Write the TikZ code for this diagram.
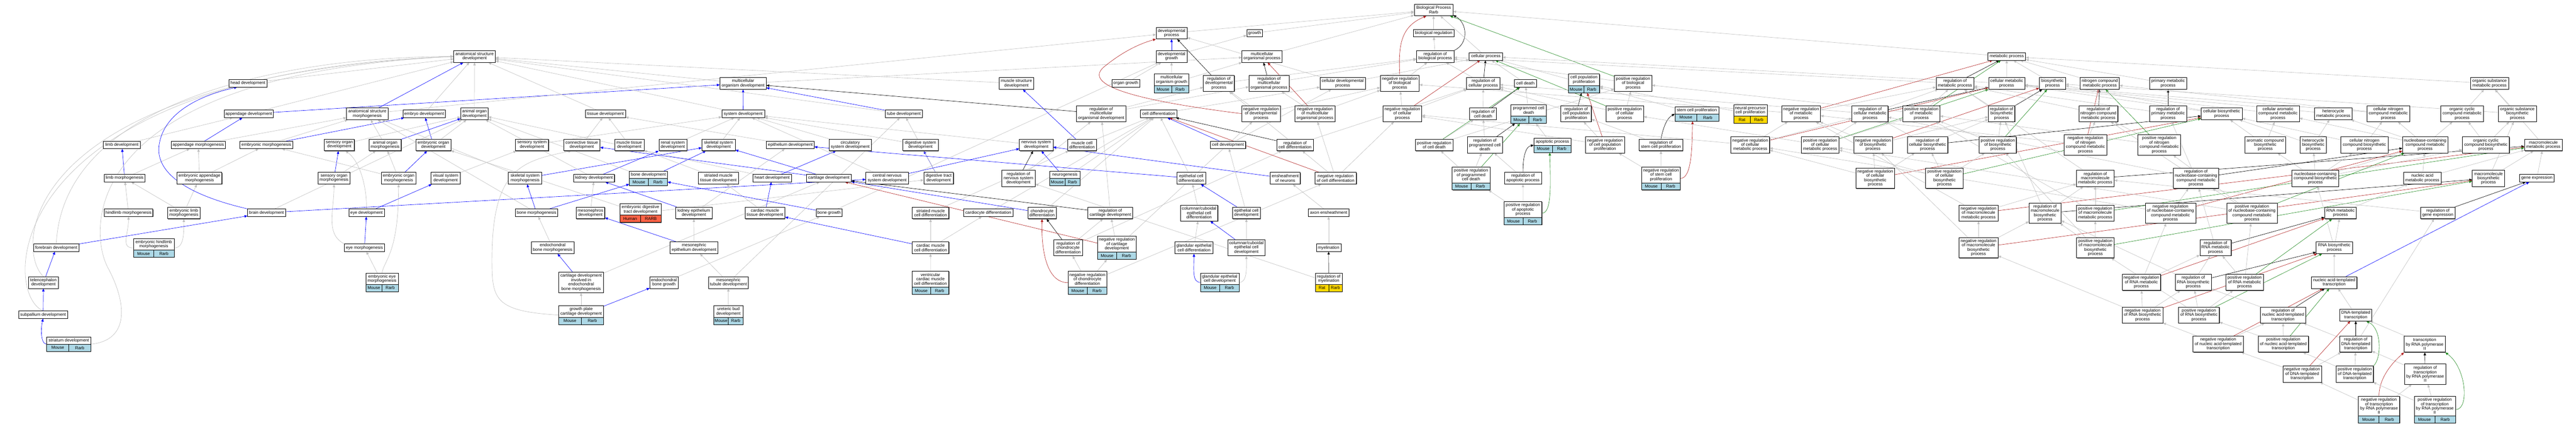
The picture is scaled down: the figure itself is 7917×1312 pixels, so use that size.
\documentclass[tikz,border=0pt]{standalone}
\usepackage{fontspec}
\setmainfont{Liberation Sans}
\usetikzlibrary{arrows.meta,shadows}
\pgfdeclarelayer{background}
\pgfsetlayers{background,main}
\definecolor{edgegray}{RGB}{192,192,192}
\definecolor{lblue}{RGB}{173,216,230}
\definecolor{tomatoc}{RGB}{255,99,71}
\definecolor{goldc}{RGB}{255,215,0}
\definecolor{fbrick}{RGB}{178,34,34}
\definecolor{fgreen}{RGB}{34,139,34}
\newcommand{\gofs}{\fontsize{13}{13.4}\selectfont}
\tikzset{
  gobox/.style={draw=black, line width=1.1pt, fill=white, inner sep=0pt, align=center, font=\gofs,
    drop shadow={shadow xshift=1.3pt, shadow yshift=-1.3pt, fill=black!60, opacity=1}},
  golabel/.style={inner sep=0pt, align=center, font=\gofs},
  edgebase/.style={line width=1pt, -{Triangle[length=9pt,width=7.5pt]}},
  isa/.style={edgebase, draw=edgegray},
  partof/.style={edgebase, draw=blue},
  regs/.style={edgebase, draw=black},
  negr/.style={edgebase, draw=fbrick},
  posr/.style={edgebase, draw=fgreen},
}
\newcommand{\GOn}[6]{\node[gobox, minimum width=#4pt, minimum height=#5pt] (#1) at (#2,#3) {#6};}
\newcommand{\GOg}[9][lblue]{%
  \node[gobox, minimum width=#6pt, minimum height={(#5)-(#4)}] (#2) at (#3,{((#4)+(#5))/2}) {};
  \node[golabel] at (#3,{((#4)+(#5)-22)/2}) {#7};
  \draw[line width=1.1pt, fill=#1] ({(#3)-(#6)/2},{(#5)-22}) rectangle (#3,#5);
  \draw[line width=1.1pt, fill=#1] (#3,{(#5)-22}) rectangle ({(#3)+(#6)/2},#5);
  \node[golabel] at ({(#3)-(#6)/4},{(#5)-11}) {#8};
  \node[golabel] at ({(#3)+(#6)/4},{(#5)-11}) {#9};
}
\newcommand{\GOe}[3]{\draw[#1] (#2) -- (#3);}
\begin{document}
\begin{tikzpicture}[x=1pt,y=-1pt]
\useasboundingbox (0,0) rectangle (7917,1312);
% ---------------- nodes: development (left)
\GOn{limbdev}{374.5}{445.5}{113}{23}{limb development}
\GOn{appmorph}{609.5}{445.5}{165}{23}{appendage morphogenesis}
\GOn{limbmorph}{383}{547.5}{126}{23}{limb morphogenesis}
\GOn{embappmorph}{613}{548}{138}{36}{embryonic appendage\\morphogenesis}
\GOn{hindlimbmorph}{395}{654}{150}{23}{hindlimb morphogenesis}
\GOn{emblimbmorph}{565}{654.5}{99}{36}{embryonic limb\\morphogenesis}
\GOg{embhind}{472.5}{733}{791}{125}{embryonic hindlimb\\morphogenesis}{Mouse}{Rarb}
\GOn{forebrain}{173}{761.5}{139}{23}{forebrain development}
\GOn{telen}{133.5}{868.5}{91}{36}{telencephalon\\development}
\GOn{subpall}{132.5}{967.5}{151}{23}{subpallium development}
\GOg{striatum}{211.4}{1036}{1080}{135.3}{striatum development}{Mouse}{Rarb}
\GOn{headdev}{762}{256}{116.5}{23}{head development}
\GOn{appdev}{764.5}{350}{151}{23}{appendage development}
\GOn{asmorph}{1129}{350}{128}{36}{anatomical structure\\morphogenesis}
\GOn{embryodev}{1303.5}{350}{131}{23}{embryo development}
\GOn{embmorph}{818.8}{445.5}{162.5}{23}{embryonic morphogenesis}
\GOn{sensorgdev}{1043}{445.5}{92}{36}{sensory organ\\development}
\GOn{aomorph}{1183.5}{445.5}{99}{36}{animal organ\\morphogenesis}
\GOn{embOdev}{1332}{445.5}{107}{36}{embryonic organ\\development}
\GOn{sensorgmorph}{1026.5}{548}{99}{36}{sensory organ\\morphogenesis}
\GOn{embOmorph}{1225}{548}{106.5}{36}{embryonic organ\\morphogenesis}
\GOn{vissys}{1369.5}{548}{91}{36}{visual system\\development}
\GOn{braindev}{819}{654}{116}{23}{brain development}
\GOn{eyedev}{1126.5}{654}{109}{23}{eye development}
\GOn{eyemorph}{1120}{761.5}{123}{23}{eye morphogenesis}
\GOg{embeye}{1174}{840}{896}{100}{embryonic eye\\morphogenesis}{Mouse}{Rarb}
\GOn{asdev}{1458.5}{173.6}{128}{36}{anatomical structure\\development}
\GOn{aodev}{1458}{350}{84}{36}{animal organ\\development}
\GOn{tissuedev}{1861}{350}{122}{23}{tissue development}
\GOn{senssys}{1635}{445.5}{102}{36}{sensory system\\development}
\GOn{conntis}{1788}{445.5}{112}{36}{connective tissue\\development}
\GOn{musctis}{1934}{445.5}{90}{36}{muscle tissue\\development}
\GOn{skelmorph}{1613.7}{548}{103}{36}{skeletal system\\morphogenesis}
\GOn{kidneydev}{1825.7}{547.5}{126}{23}{kidney development}
\GOg{bonedev}{1992.8}{526}{570.6}{116.5}{bone development}{Mouse}{Rarb}
\GOg[tomatoc]{embdig}{1968.5}{626.7}{683.6}{127}{embryonic digestive\\tract development}{Human}{RARB}
\GOn{bonemorph}{1649}{654}{130.5}{23}{bone morphogenesis}
\GOn{mesoneph}{1814.6}{654.5}{88}{36}{mesonephros\\development}
\GOn{endobonemorph}{1698.5}{761.5}{131}{36}{endochondral\\bone morphogenesis}
\GOn{cartendo}{1786}{868.5}{137.5}{63}{cartilage development\\involved in\\endochondral\\bone morphogenesis}
\GOg{growthplate}{1786}{939.6}{997.3}{137.5}{growth plate\\cartilage development}{Mouse}{Rarb}
\GOn{mcodev}{2283.7}{256.5}{142}{36}{multicellular\\organism development}
\GOn{sysdev}{2284}{350}{131}{23}{system development}
\GOn{renal}{2067.8}{445.5}{85.5}{36}{renal system\\development}
\GOn{skeldev}{2208.5}{445.5}{102.4}{36}{skeletal system\\development}
\GOn{epidev}{2429}{445.5}{146.6}{23}{epithelium development}
\GOn{circ}{2613}{445.5}{130.5}{36}{circulatory\\system development}
\GOn{strmusctis}{2207.8}{548}{122.7}{36}{striated muscle\\tissue development}
\GOn{heartdev}{2373}{547.5}{118}{23}{heart development}
\GOn{cartdev}{2547.4}{547.5}{137.5}{23}{cartilage development}
\GOn{kidepi}{2132.5}{654.5}{111}{36}{kidney epithelium\\development}
\GOn{cardmusctis}{2351}{654.5}{122.7}{36}{cardiac muscle\\tissue development}
\GOn{bonegrowth}{2548}{654}{80}{23}{bone growth}
\GOn{mesoepi}{2133}{761.5}{147}{36}{mesonephric\\epithelium development}
\GOn{endobonegrowth}{2040.5}{868.5}{87}{36}{endochondral\\bone growth}
\GOn{mesotub}{2238.5}{868.5}{123}{36}{mesonephric\\tubule development}
\GOg{ureteric}{2238.6}{939.6}{997.3}{90.6}{ureteric bud\\development}{Mouse}{Rarb}
\GOn{muscstruct}{3124}{256.5}{106}{36}{muscle structure\\development}
\GOn{tubedev}{2778}{350}{113.6}{23}{tube development}
\GOn{digsys}{2829}{445.5}{109.7}{36}{digestive system\\development}
\GOn{nervsys}{3184.7}{445.5}{103}{36}{nervous system\\development}
\GOn{musccelldiff}{3325.5}{445.5}{88.5}{36}{muscle cell\\differentiation}
\GOn{cns}{2726.6}{548}{131}{36}{central nervous\\system development}
\GOn{digtract}{2884.8}{548}{91.5}{36}{digestive tract\\development}
\GOn{regnerv}{3130}{548.4}{102.8}{49.5}{regulation of\\nervous system\\development}
\GOg{neurogen}{3272.7}{526}{570.6}{92.7}{neurogenesis}{Mouse}{Rarb}
\GOn{strmusccell}{2860}{654.5}{112.3}{36}{striated muscle\\cell differentiation}
\GOn{cardiocyte}{3037.4}{654}{152}{23}{cardiocyte differentiation}
\GOn{chondro}{3202.6}{654.5}{88}{36}{chondrocyte\\differentiation}
\GOn{regchondro}{3282.5}{761.4}{88}{50}{regulation of\\chondrocyte\\differentiation}
\GOn{cardmusccell}{2860}{761.5}{112.3}{36}{cardiac muscle\\cell differentiation}
\GOg{ventric}{2859.6}{833.3}{904.5}{113}{ventricular\\cardiac muscle\\cell differentiation}{Mouse}{Rarb}
\GOg{negchondro}{3342}{833.3}{904.5}{118}{negative regulation\\of chondrocyte\\differentiation}{Mouse}{Rarb}
\GOn{devproc}{3600.6}{101.7}{95}{36}{developmental\\process}
\GOn{growth}{3856}{101.7}{48.5}{23}{growth}
\GOn{devgrowth}{3600.6}{173.6}{95}{36}{developmental\\growth}
\GOn{mcoproc}{3878.6}{173.6}{122.7}{36}{multicellular\\organismal process}
\GOn{organgrowth}{3460}{256}{84.6}{23}{organ growth}
\GOg{mcogrowth}{3600.5}{227.6}{285.3}{105}{multicellular\\organism growth}{Mouse}{Rarb}
\GOn{regdevproc}{3746}{256}{95}{50}{regulation of\\developmental\\process}
\GOn{regmcoproc}{3900}{256}{123}{50}{regulation of\\multicellular\\organismal process}
\GOn{regmcodev}{3384.5}{349.3}{151}{49.5}{regulation of\\multicellular\\organismal development}
\GOn{celldiff}{3561}{350}{111.5}{23}{cell differentiation}
\GOn{negregdevproc}{3875.5}{349.3}{119}{49.5}{negative regulation\\of developmental\\process}
\GOn{celldev}{3774}{445.5}{108.4}{23}{cell development}
\GOn{regcelldiff}{3980}{445.5}{112.7}{36}{regulation of\\cell differentiation}
\GOn{epicelldiff}{3661.2}{548}{87.6}{36}{epithelial cell\\differentiation}
\GOn{ensheath}{3950}{548}{92.3}{36}{ensheathment\\of neurons}
\GOn{regcartdev}{3412.5}{654.5}{137.5}{36}{regulation of\\cartilage development}
\GOn{colcubdiff}{3685.3}{654.7}{115}{49.5}{columnar/cuboidal\\epithelial cell\\differentiation}
\GOn{epicelldev}{3830.6}{654.5}{85.4}{36}{epithelial cell\\development}
\GOg{negcart}{3432.4}{726.2}{797.4}{119.2}{negative regulation\\of cartilage\\development}{Mouse}{Rarb}
\GOn{glanddiff}{3669.5}{761.5}{117}{36}{glandular epithelial\\cell differentiation}
\GOn{colcubdev}{3830.5}{761.4}{115}{50}{columnar/cuboidal\\epithelial cell\\development}
\GOg{glanddev}{3748.8}{840}{896}{118.8}{glandular epithelial\\cell development}{Mouse}{Rarb}
% ---------------- nodes: regulation / cell
\GOn{bp}{4406}{30.5}{119.2}{36}{Biological Process\\Rarb}
\GOn{bioreg}{4406}{101.7}{124.5}{23}{biological regulation}
\GOn{regbp}{4410.8}{173.6}{115}{36}{regulation of\\biological process}
\GOn{cellproc}{4566.5}{173.6}{102}{23}{cellular process}
\GOn{celldevproc}{4126.6}{256.5}{139.2}{36}{cellular developmental\\process}
\GOn{negregbp}{4302}{256}{119.3}{50}{negative regulation\\of biological\\process}
\GOn{regcellproc}{4558.6}{256.5}{102}{36}{regulation of\\cellular process}
\GOn{negregmcoproc}{4041.3}{349.3}{122.7}{49.5}{negative regulation\\of multicellular\\organismal process}
\GOn{negregcellproc}{4310}{349.3}{119}{49.5}{negative regulation\\of cellular\\process}
\GOn{regcelldeath}{4558}{350}{82.4}{36}{regulation of\\cell death}
\GOn{posregcelldeath}{4407.8}{445.5}{115}{36}{positive regulation\\of cell death}
\GOn{regpcd}{4563.6}{445.5}{106.7}{49.5}{regulation of\\programmed cell\\death}
\GOn{negregcelldiff}{4104.8}{548}{127.5}{36}{negative regulation\\of cell differentiation}
\GOg{posregpcd}{4521}{513}{584}{115.8}{positive regulation\\of programmed\\cell death}{Mouse}{Rarb}
\GOn{axonens}{4083.3}{654}{124.5}{23}{axon ensheathment}
\GOn{myelin}{4083.3}{761.5}{76}{23}{myelination}
\GOg[goldc]{regmyelin}{4083.6}{840}{896}{82.4}{regulation of\\myelination}{Rat}{Rarb}
\GOn{celldeath}{4688}{256}{66.8}{23}{cell death}
\GOg{cpp}{4868}{227.6}{285.3}{96.3}{cell population\\proliferation}{Mouse}{Rarb}
\GOn{posregbp}{5019}{256}{115.4}{50}{positive regulation\\of biological\\process}
\GOg{pcd}{4698}{321.3}{379}{108.4}{programmed cell\\death}{Mouse}{Rarb}
\GOn{regcpp}{4844}{349.3}{93.3}{49.5}{regulation of\\cell population\\proliferation}
\GOn{posregcellproc}{4993.4}{349.3}{115.4}{49.5}{positive regulation\\of cellular\\process}
\GOg{scp}{5215}{328}{372.3}{134.8}{stem cell proliferation}{Mouse}{Rarb}
\GOg{apop}{4771.3}{424.2}{468.6}{113.6}{apoptotic process}{Mouse}{Rarb}
\GOn{negregcpp}{4932.8}{445.5}{119.3}{49.5}{negative regulation\\of cell population\\proliferation}
\GOn{regscp}{5104.7}{445.5}{135.3}{36}{regulation of\\stem cell proliferation}
\GOn{regapop}{4680.7}{548}{113.6}{36}{regulation of\\apoptotic process}
\GOg{negscp}{5104.8}{513}{584}{118.9}{negative regulation\\of stem cell\\proliferation}{Mouse}{Rarb}
\GOg{posapop}{4680.6}{620}{691}{116.3}{positive regulation\\of apoptotic\\process}{Mouse}{Rarb}
\GOg[goldc]{neuralprec}{5379.5}{321.3}{379}{102.8}{neural precursor\\cell proliferation}{Rat}{Rarb}
% ---------------- nodes: metabolic
\GOn{negregmet}{5535.4}{349.3}{118.8}{49.5}{negative regulation\\of metabolic\\process}
\GOn{regcellmet}{5747.3}{349.3}{110.6}{49.5}{regulation of\\cellular metabolic\\process}
\GOn{posregmet}{5905}{349.3}{114.5}{49.5}{positive regulation\\of metabolic\\process}
\GOn{negregcellmet}{5379}{445.5}{119.3}{49.5}{negative regulation\\of cellular\\metabolic process}
\GOn{posregcellmet}{5594}{445.5}{116.2}{49.5}{positive regulation\\of cellular\\metabolic process}
\GOn{negregbiosyn}{5756.5}{445.5}{118.8}{49.5}{negative regulation\\of biosynthetic\\process}
\GOn{regcellbiosyn}{5924}{445.5}{125}{49.5}{regulation of\\cellular biosynthetic\\process}
\GOn{negregcellbiosyn}{5763.3}{548}{119.3}{62.5}{negative regulation\\of cellular\\biosynthetic\\process}
\GOn{posregcellbiosyn}{5976}{548}{115.2}{62.5}{positive regulation\\of cellular\\biosynthetic\\process}
\GOn{metproc}{6167.4}{173.6}{115.8}{23}{metabolic process}
\GOn{regmet}{6008.5}{256.5}{116.2}{36}{regulation of\\metabolic process}
\GOn{cellmet}{6167.2}{256.5}{111}{36}{cellular metabolic\\process}
\GOn{biosyn}{6308}{256.5}{80.2}{36}{biosynthetic\\process}
\GOn{nitro}{6453.3}{256.5}{120}{36}{nitrogen compound\\metabolic process}
\GOn{regbiosyn}{6151.6}{349.3}{81.5}{49.5}{regulation of\\biosynthetic\\process}
\GOn{regnitro}{6449}{349.3}{119.7}{49.5}{regulation of\\nitrogen compound\\metabolic process}
\GOn{posregbiosyn}{6140}{445.5}{114}{49.5}{positive regulation\\of biosynthetic\\process}
\GOn{negregnitro}{6409.2}{445.5}{131}{62.5}{negative regulation\\of nitrogen\\compound metabolic\\process}
\GOn{posregnitro}{6636}{445.5}{131}{62.5}{positive regulation\\of nitrogen\\compound metabolic\\process}
\GOn{regmacromet}{6439.4}{548.4}{115.8}{49.5}{regulation of\\macromolecule\\metabolic process}
\GOn{negregmacromet}{6080.7}{654.7}{119.3}{49.5}{negative regulation\\of macromolecule\\metabolic process}
\GOn{regmacrobiosyn}{6285}{655}{99}{62.5}{regulation of\\macromolecule\\biosynthetic\\process}
\GOn{posregmacromet}{6439.4}{654.7}{115.8}{49.5}{positive regulation\\of macromolecule\\metabolic process}
\GOn{negregmacrobiosyn}{6080.7}{761.7}{119.3}{62.5}{negative regulation\\of macromolecule\\biosynthetic\\process}
\GOn{posregmacrobiosyn}{6439.8}{761.7}{115}{62.5}{positive regulation\\of macromolecule\\biosynthetic\\process}
\GOn{negregrnamet}{6581}{868}{118.5}{49.5}{negative regulation\\of RNA metabolic\\process}
\GOn{negregrnabiosyn}{6584.8}{968.5}{124.8}{49.5}{negative regulation\\of RNA biosynthetic\\process}
\GOn{primmet}{6663.3}{256.5}{113.6}{36}{primary metabolic\\process}
\GOn{regprimmet}{6663.3}{349.3}{113.6}{49.5}{regulation of\\primary metabolic\\process}
\GOn{cellbiosyn}{6828}{350}{125.8}{36}{cellular biosynthetic\\process}
\GOn{cellarom}{7001}{349.3}{131}{49.5}{cellular aromatic\\compound metabolic\\process}
\GOn{hetmet}{7171}{350}{116.2}{36}{heterocycle\\metabolic process}
\GOn{arombiosyn}{6962}{445.5}{124}{49.5}{aromatic compound\\biosynthetic\\process}
\GOn{hetbiosyn}{7109.3}{445.5}{80.2}{49.5}{heterocycle\\biosynthetic\\process}
\GOn{cellnitrobiosyn}{7266.7}{445.5}{144.4}{49.5}{cellular nitrogen\\compound biosynthetic\\process}
\GOn{regnucmet}{6749}{548}{138.8}{62.5}{regulation of\\nucleobase-containing\\compound metabolic\\process}
\GOn{nucbiosyn}{7116}{548.4}{144}{49.5}{nucleobase-containing\\compound biosynthetic\\process}
\GOn{negregnucmet}{6670.6}{655}{155.3}{62.5}{negative regulation\\of nucleobase-containing\\compound metabolic\\process}
\GOn{posregnucmet}{6921}{655}{154.8}{62.5}{positive regulation\\of nucleobase-containing\\compound metabolic\\process}
\GOn{rnamet}{7193}{654.5}{96}{36}{RNA metabolic\\process}
\GOn{regrnamet}{6809}{761.4}{96.3}{50}{regulation of\\RNA metabolic\\process}
\GOn{rnabiosyn}{7174}{761.5}{111}{36}{RNA biosynthetic\\process}
\GOn{regrnabiosyn}{6740.5}{868}{111}{49.5}{regulation of\\RNA biosynthetic\\process}
\GOn{posregrnamet}{6898.3}{868}{114.5}{49.5}{positive regulation\\of RNA metabolic\\process}
\GOn{natrans}{7173.8}{868.5}{139.6}{36}{nucleic acid-templated\\transcription}
\GOn{posregrnabiosyn}{6758}{968.5}{125.8}{49.5}{positive regulation\\of RNA biosynthetic\\process}
\GOn{regnatrans}{7016.5}{968.5}{140}{49.5}{regulation of\\nucleic acid-templated\\transcription}
\GOn{dnatrans}{7240}{968.5}{98.6}{36}{DNA-templated\\transcription}
\GOn{negregnatrans}{6817.2}{1058}{154.4}{49.5}{negative regulation\\of nucleic acid-templated\\transcription}
\GOn{posregnatrans}{7017.4}{1058}{154.8}{49.5}{positive regulation\\of nucleic acid-templated\\transcription}
\GOn{regdnatrans}{7240}{1058}{98.6}{49.5}{regulation of\\DNA-templated\\transcription}
\GOn{negregdnatrans}{7075.3}{1150}{118.8}{49.5}{negative regulation\\of DNA-templated\\transcription}
\GOn{posregdnatrans}{7237}{1150}{114.6}{49.5}{positive regulation\\of DNA-templated\\transcription}
\GOn{orgsubmet}{7651.3}{256.5}{116.2}{36}{organic substance\\metabolic process}
\GOn{cellnitromet}{7340}{349.3}{131}{49.5}{cellular nitrogen\\compound metabolic\\process}
\GOn{orgcycmet}{7566.9}{349.3}{130.4}{49.5}{organic cyclic\\compound metabolic\\process}
\GOn{orgsubbiosyn}{7736.8}{349.3}{116.2}{49.5}{organic substance\\biosynthetic\\process}
\GOn{nucmet}{7453.3}{445.5}{139}{49.5}{nucleobase-containing\\compound metabolic\\process}
\GOn{orgcycbiosyn}{7640}{445.5}{144.7}{49.5}{organic cyclic\\compound biosynthetic\\process}
\GOn{macromet}{7816.7}{445.5}{116.2}{36}{macromolecule\\metabolic process}
\GOn{nucacidmet}{7444.7}{548}{115.7}{36}{nucleic acid\\metabolic process}
\GOn{macrobiosyn}{7648}{548.4}{99.3}{49.5}{macromolecule\\biosynthetic\\process}
\GOn{geneexp}{7796.6}{547.5}{105.4}{23}{gene expression}
\GOn{reggeneexp}{7492.4}{654.5}{105.8}{36}{regulation of\\gene expression}
\GOn{trpol2}{7451.8}{1058}{125.6}{49.5}{transcription\\by RNA polymerase\\II}
\GOn{regtrpol2}{7453.4}{1150}{126}{62.5}{regulation of\\transcription\\by RNA polymerase\\II}
\GOg{negpol2}{7311.4}{1217.4}{1301}{127.4}{negative regulation\\of transcription\\by RNA polymerase\\II}{Mouse}{Rarb}
\GOg{pospol2}{7483}{1217.4}{1301}{127}{positive regulation\\of transcription\\by RNA polymerase\\II}{Mouse}{Rarb}
% ================= edges
\begin{pgfonlayer}{background}
\fill[white] (0,0) rectangle (7917,1312);
% left development
\GOe{partof}{limbmorph}{limbdev}
\GOe{isa}{limbmorph}{appmorph}
\GOe{isa}{hindlimbmorph}{limbmorph}
\GOe{isa}{emblimbmorph}{limbmorph}
\GOe{isa}{emblimbmorph}{embappmorph}
\GOe{isa}{embappmorph}{appmorph}
\GOe{isa}{embappmorph}{embmorph}
\draw[isa] (embhind.west) .. controls (370,762) and (395,720) .. (hindlimbmorph.south);
\draw[isa] (embhind.east) .. controls (565,762) and (565,720) .. (emblimbmorph.south);
\GOe{isa}{limbdev}{appdev}
\GOe{partof}{appmorph}{appdev}
\GOe{isa}{appmorph}{asmorph}
\GOe{partof}{forebrain}{braindev}
\draw[isa] (forebrain.north) .. controls (195,300) and (900,174) .. (asdev.west);
\draw[isa] (telen.north) .. controls (45,770) and (45,240) .. (asdev.west);
\draw[isa] (subpall.north) .. controls (0,900) and (0,225) .. (asdev.west);
\draw[isa] (striatum.east) .. controls (400,1046) and (390,930) .. (330,820) .. controls (270,700) and (250,232) .. (asdev.west);
\GOe{partof}{telen}{forebrain}
\GOe{partof}{subpall}{telen}
\draw[partof] (striatum.west) .. controls (125,1058) and (125,1010) .. (subpall.south);
\draw[partof] (braindev.north west) .. controls (600,605) and (470,540) .. (490,440) .. controls (510,330) and (650,285) .. (headdev.-160);
\GOe{isa}{headdev}{asdev}
\GOe{isa}{appdev}{asdev}
\GOe{partof}{appdev}{mcodev}
\GOe{partof}{asmorph}{asdev}
\GOe{isa}{asmorph}{devproc}
\GOe{partof}{embmorph}{embryodev}
\GOe{isa}{embmorph}{asmorph}
\GOe{isa}{sensorgdev}{aodev}
\GOe{partof}{sensorgmorph}{sensorgdev}
\GOe{isa}{sensorgmorph}{aomorph}
\GOe{isa}{aomorph}{asmorph}
\GOe{partof}{aomorph}{aodev}
\GOe{partof}{embOdev}{embryodev}
\GOe{isa}{embOdev}{aodev}
\GOe{partof}{embOmorph}{embOdev}
\GOe{isa}{embOmorph}{aomorph}
\GOe{isa}{embOmorph}{embmorph}
\GOe{isa}{vissys}{senssys}
\GOe{partof}{eyedev}{vissys}
\draw[isa] (eyedev.north) .. controls (1127,560) and (1100,490) .. (sensorgdev.-45);
\GOe{partof}{eyemorph}{eyedev}
\draw[isa] (eyemorph.north west) .. controls (1000,720) and (1026,650) .. (sensorgmorph.south);
\GOe{isa}{embeye}{eyemorph}
\draw[isa] (embeye.north) .. controls (1180,800) and (1225,780) .. (embOmorph.south);
\GOe{isa}{braindev}{aodev}
\GOe{partof}{braindev}{cns}
\GOe{isa}{embryodev}{asdev}
\GOe{isa}{aodev}{asdev}
\GOe{isa}{tissuedev}{asdev}
\GOe{isa}{senssys}{sysdev}
\GOe{isa}{conntis}{tissuedev}
\GOe{isa}{musctis}{tissuedev}
\GOe{partof}{skelmorph}{skeldev}
\GOe{isa}{skelmorph}{asmorph}
\GOe{isa}{kidneydev}{aodev}
\GOe{partof}{kidneydev}{renal}
\GOe{partof}{bonedev}{skeldev}
\GOe{isa}{bonedev}{aodev}
\GOe{isa}{embdig}{digtract}
\GOe{isa}{embdig}{embOdev}
\GOe{partof}{bonemorph}{skelmorph}
\GOe{partof}{bonemorph}{bonedev}
\GOe{isa}{bonemorph}{asmorph}
\GOe{isa}{mesoneph}{kidneydev}
\GOe{isa}{endobonemorph}{bonemorph}
\GOe{partof}{cartendo}{endobonemorph}
\GOe{isa}{cartendo}{cartdev}
\GOe{isa}{growthplate}{cartendo}
\GOe{partof}{growthplate}{endobonegrowth}
\draw[isa] (growthplate.west) .. controls (1520,957) and (1512,920) .. (1512,800) .. controls (1512,520) and (1600,495) .. (conntis.-150);
\GOe{isa}{mcodev}{mcoproc}
\GOe{isa}{mcodev}{asdev}
\GOe{partof}{sysdev}{mcodev}
\GOe{isa}{sysdev}{asdev}
\GOe{isa}{renal}{sysdev}
\GOe{isa}{skeldev}{sysdev}
\GOe{isa}{epidev}{tissuedev}
\GOe{isa}{circ}{sysdev}
\GOe{isa}{strmusctis}{musctis}
\GOe{partof}{heartdev}{circ}
\GOe{isa}{heartdev}{aodev}
\GOe{partof}{cartdev}{skeldev}
\GOe{partof}{cartdev}{conntis}
\GOe{partof}{kidepi}{kidneydev}
\GOe{isa}{kidepi}{epidev}
\GOe{partof}{cardmusctis}{heartdev}
\GOe{isa}{cardmusctis}{strmusctis}
\GOe{partof}{bonegrowth}{bonedev}
\GOe{isa}{bonegrowth}{devgrowth}
\GOe{partof}{mesoepi}{mesoneph}
\GOe{isa}{mesoepi}{kidepi}
\GOe{isa}{endobonegrowth}{bonegrowth}
\GOe{isa}{mesotub}{mesoepi}
\GOe{isa}{mesotub}{tubedev}
\GOe{isa}{ureteric}{mesotub}
\GOe{regs}{regmcodev}{mcodev}
\GOe{partof}{tubedev}{mcodev}
\GOe{isa}{muscstruct}{asdev}
\GOe{partof}{musccelldiff}{muscstruct}
\GOe{isa}{tubedev}{asdev}
\GOe{isa}{digsys}{sysdev}
\GOe{isa}{nervsys}{sysdev}
\GOe{partof}{cns}{nervsys}
\GOe{isa}{cns}{sysdev}
\GOe{partof}{digtract}{digsys}
\GOe{isa}{digtract}{tubedev}
\GOe{regs}{regnerv}{nervsys}
\GOe{isa}{regnerv}{regmcodev}
\GOe{partof}{neurogen}{nervsys}
\GOe{isa}{neurogen}{celldiff}
\GOe{isa}{strmusccell}{musccelldiff}
\GOe{isa}{cardiocyte}{celldiff}
\GOe{partof}{chondro}{cartdev}
\GOe{isa}{chondro}{celldiff}
\GOe{isa}{cardmusccell}{strmusccell}
\GOe{isa}{cardmusccell}{cardiocyte}
\GOe{partof}{cardmusccell}{cardmusctis}
\GOe{isa}{ventric}{cardmusccell}
\GOe{regs}{regchondro}{chondro}
\GOe{isa}{regchondro}{regcelldiff}
\GOe{isa}{regchondro}{regcartdev}
\draw[negr] (negchondro.west) .. controls (3220,869) and (3200,780) .. (chondro.south);
\GOe{isa}{negchondro}{regchondro}
\GOe{isa}{negchondro}{negcart}
\GOe{isa}{negchondro}{negregcelldiff}
\GOe{partof}{devgrowth}{devproc}
\GOe{isa}{devgrowth}{growth}
\GOe{isa}{organgrowth}{devgrowth}
\GOe{isa}{mcogrowth}{devgrowth}
\GOe{isa}{mcogrowth}{mcoproc}
\GOe{regs}{regdevproc}{devproc}
\GOe{isa}{regdevproc}{regbp}
\GOe{regs}{regmcoproc}{mcoproc}
\GOe{isa}{regmcoproc}{regbp}
\GOe{isa}{devproc}{bp}
\GOe{isa}{growth}{bp}
\GOe{isa}{mcoproc}{bp}
\GOe{isa}{regmcodev}{regmcoproc}
\GOe{isa}{regmcodev}{regdevproc}
\GOe{isa}{celldiff}{celldevproc}
\draw[negr] (negregdevproc.west) .. controls (3420,300) and (3330,250) .. (3400,200) .. controls (3450,160) and (3500,135) .. (devproc.south west);
\GOe{isa}{negregdevproc}{regdevproc}
\GOe{isa}{negregdevproc}{negregbp}
\GOe{isa}{musccelldiff}{celldiff}
\GOe{partof}{celldev}{celldiff}
\GOe{isa}{celldev}{celldevproc}
\GOe{regs}{regcelldiff}{celldiff}
\GOe{isa}{regcelldiff}{regcellproc}
\GOe{isa}{regcelldiff}{regdevproc}
\GOe{isa}{epicelldiff}{celldiff}
\GOe{partof}{epicelldiff}{epidev}
\GOe{partof}{ensheath}{nervsys}
\GOe{isa}{regcartdev}{regmcodev}
\GOe{regs}{regcartdev}{cartdev}
\GOe{isa}{colcubdiff}{epicelldiff}
\GOe{partof}{epicelldev}{epicelldiff}
\GOe{isa}{epicelldev}{celldev}
\GOe{isa}{negcart}{regcartdev}
\GOe{negr}{negcart}{cartdev}
\GOe{isa}{negcart}{negregdevproc}
\GOe{isa}{glanddiff}{colcubdiff}
\GOe{partof}{colcubdev}{colcubdiff}
\GOe{isa}{colcubdev}{epicelldev}
\draw[partof] (glanddev.west) .. controls (3664,868) and (3669,830) .. (glanddiff.south);
\draw[isa] (glanddev.east) .. controls (3832,868) and (3831,830) .. (colcubdev.south);
% biological process / cell
\GOe{isa}{bioreg}{bp}
\GOe{isa}{regbp}{bioreg}
\draw[regs] (regbp.north east) .. controls (4515,135) and (4510,70) .. (bp.-15);
\GOe{isa}{cellproc}{bp}
\GOe{isa}{celldevproc}{devproc}
\GOe{isa}{celldevproc}{cellproc}
\draw[negr] (negregbp.north) .. controls (4296,130) and (4310,80) .. (bp.-140);
\GOe{isa}{negregbp}{regbp}
\GOe{regs}{regcellproc}{cellproc}
\GOe{isa}{regcellproc}{regbp}
\GOe{negr}{negregmcoproc}{mcoproc}
\GOe{isa}{negregmcoproc}{regmcoproc}
\GOe{isa}{negregmcoproc}{negregbp}
\GOe{negr}{negregcellproc}{cellproc}
\GOe{isa}{negregcellproc}{regcellproc}
\GOe{isa}{negregcellproc}{negregbp}
\GOe{isa}{regcelldeath}{regcellproc}
\GOe{regs}{regcelldeath}{celldeath}
\GOe{posr}{posregcelldeath}{celldeath}
\GOe{isa}{posregcelldeath}{regcelldeath}
\GOe{isa}{posregcelldeath}{posregbp}
\GOe{isa}{regpcd}{regcelldeath}
\GOe{regs}{regpcd}{pcd}
\GOe{isa}{negregcelldiff}{regcelldiff}
\GOe{isa}{negregcelldiff}{negregcellproc}
\GOe{isa}{negregcelldiff}{negregmcoproc}
\GOe{negr}{negregcelldiff}{celldiff}
\GOe{isa}{posregpcd}{regpcd}
\GOe{isa}{posregpcd}{posregcelldeath}
\GOe{posr}{posregpcd}{pcd}
\GOe{isa}{axonens}{ensheath}
\GOe{isa}{myelin}{axonens}
\GOe{regs}{regmyelin}{myelin}
\GOe{isa}{regmyelin}{regnerv}
\GOe{isa}{celldeath}{cellproc}
\GOe{isa}{cpp}{cellproc}
\GOe{posr}{posregbp}{bp}
\GOe{isa}{posregbp}{regbp}
\GOe{isa}{pcd}{celldeath}
\GOe{regs}{regcpp}{cpp}
\GOe{isa}{regcpp}{regcellproc}
\GOe{posr}{posregcellproc}{cellproc}
\GOe{isa}{posregcellproc}{posregbp}
\GOe{isa}{posregcellproc}{regcellproc}
\GOe{isa}{scp}{cpp}
\GOe{isa}{apop}{pcd}
\GOe{isa}{negregcpp}{regcpp}
\GOe{isa}{negregcpp}{negregcellproc}
\GOe{negr}{negregcpp}{cpp}
\draw[regs] (regscp.north) .. controls (5110,400) and (5120,365) .. (scp.west);
\GOe{isa}{regscp}{regcpp}
\draw[regs] (regapop.north) .. controls (4680,480) and (4690,450) .. (apop.west);
\GOe{isa}{regapop}{regpcd}
\GOe{isa}{negscp}{regscp}
\GOe{isa}{negscp}{negregcpp}
\draw[negr] (negscp.east) .. controls (5200,548) and (5200,450) .. (scp.-120);
\GOe{isa}{posapop}{regapop}
\draw[posr] (posapop.east) .. controls (4770,655) and (4765,560) .. (apop.-110);
\GOe{isa}{posapop}{posregpcd}
\GOe{isa}{neuralprec}{cpp}
% metabolic
\GOe{isa}{metproc}{bp}
\GOe{regs}{regmet}{metproc}
\GOe{isa}{regmet}{regbp}
\GOe{isa}{cellmet}{metproc}
\GOe{isa}{cellmet}{cellproc}
\GOe{isa}{biosyn}{metproc}
\GOe{isa}{nitro}{metproc}
\GOe{isa}{primmet}{metproc}
\GOe{isa}{orgsubmet}{metproc}
\GOe{negr}{negregmet}{metproc}
\GOe{isa}{negregmet}{regmet}
\GOe{isa}{negregmet}{negregbp}
\GOe{regs}{regcellmet}{cellmet}
\GOe{isa}{regcellmet}{regmet}
\GOe{isa}{regcellmet}{regcellproc}
\GOe{posr}{posregmet}{metproc}
\GOe{isa}{posregmet}{regmet}
\GOe{isa}{posregmet}{posregbp}
\GOe{negr}{negregcellmet}{cellmet}
\GOe{isa}{negregcellmet}{negregmet}
\GOe{isa}{negregcellmet}{regcellmet}
\GOe{isa}{negregcellmet}{negregcellproc}
\GOe{posr}{posregcellmet}{cellmet}
\GOe{isa}{posregcellmet}{posregmet}
\GOe{isa}{posregcellmet}{regcellmet}
\GOe{isa}{posregcellmet}{posregcellproc}
\GOe{negr}{negregbiosyn}{biosyn}
\GOe{isa}{negregbiosyn}{regbiosyn}
\GOe{isa}{negregbiosyn}{negregmet}
\GOe{regs}{regcellbiosyn}{cellbiosyn}
\GOe{isa}{regcellbiosyn}{regbiosyn}
\GOe{isa}{regcellbiosyn}{regcellmet}
\GOe{negr}{negregcellbiosyn}{cellbiosyn}
\GOe{isa}{negregcellbiosyn}{negregbiosyn}
\GOe{isa}{negregcellbiosyn}{regcellbiosyn}
\GOe{isa}{negregcellbiosyn}{negregcellmet}
\GOe{posr}{posregcellbiosyn}{cellbiosyn}
\GOe{isa}{posregcellbiosyn}{posregbiosyn}
\GOe{isa}{posregcellbiosyn}{regcellbiosyn}
\GOe{isa}{posregcellbiosyn}{posregcellmet}
\GOe{regs}{regbiosyn}{biosyn}
\GOe{isa}{regbiosyn}{regmet}
\GOe{regs}{regnitro}{nitro}
\GOe{isa}{regnitro}{regmet}
\GOe{posr}{posregbiosyn}{biosyn}
\GOe{isa}{posregbiosyn}{regbiosyn}
\GOe{isa}{posregbiosyn}{posregmet}
\GOe{negr}{negregnitro}{nitro}
\GOe{isa}{negregnitro}{regnitro}
\GOe{isa}{negregnitro}{negregmet}
\GOe{posr}{posregnitro}{nitro}
\GOe{isa}{posregnitro}{regnitro}
\GOe{isa}{posregnitro}{posregmet}
\GOe{regs}{regmacromet}{macromet}
\GOe{isa}{regmacromet}{regmet}
\GOe{negr}{negregmacromet}{macromet}
\GOe{isa}{negregmacromet}{regmacromet}
\GOe{isa}{negregmacromet}{negregmet}
\GOe{regs}{regmacrobiosyn}{macrobiosyn}
\GOe{isa}{regmacrobiosyn}{regmacromet}
\GOe{isa}{regmacrobiosyn}{regbiosyn}
\GOe{posr}{posregmacromet}{macromet}
\GOe{isa}{posregmacromet}{regmacromet}
\GOe{isa}{posregmacromet}{posregmet}
\GOe{negr}{negregmacrobiosyn}{macrobiosyn}
\GOe{isa}{negregmacrobiosyn}{negregmacromet}
\GOe{isa}{negregmacrobiosyn}{regmacrobiosyn}
\GOe{isa}{negregmacrobiosyn}{negregbiosyn}
\GOe{posr}{posregmacrobiosyn}{macrobiosyn}
\GOe{isa}{posregmacrobiosyn}{posregmacromet}
\GOe{isa}{posregmacrobiosyn}{regmacrobiosyn}
\GOe{isa}{posregmacrobiosyn}{posregbiosyn}
\GOe{regs}{regprimmet}{primmet}
\GOe{isa}{regprimmet}{regmet}
\GOe{isa}{cellbiosyn}{biosyn}
\GOe{isa}{cellbiosyn}{cellmet}
\GOe{isa}{cellarom}{cellmet}
\GOe{isa}{hetmet}{cellmet}
\GOe{isa}{arombiosyn}{cellarom}
\GOe{isa}{arombiosyn}{cellbiosyn}
\GOe{isa}{hetbiosyn}{hetmet}
\GOe{isa}{hetbiosyn}{cellbiosyn}
\GOe{isa}{cellnitrobiosyn}{cellnitromet}
\GOe{isa}{cellnitrobiosyn}{cellbiosyn}
\GOe{regs}{regnucmet}{nucmet}
\GOe{isa}{regnucmet}{regcellmet}
\GOe{isa}{regnucmet}{regnitro}
\GOe{isa}{regnucmet}{regprimmet}
\GOe{isa}{nucbiosyn}{nucmet}
\GOe{isa}{nucbiosyn}{arombiosyn}
\GOe{isa}{nucbiosyn}{hetbiosyn}
\GOe{isa}{nucbiosyn}{cellnitrobiosyn}
\GOe{isa}{nucbiosyn}{orgcycbiosyn}
\GOe{negr}{negregnucmet}{nucmet}
\GOe{isa}{negregnucmet}{regnucmet}
\GOe{isa}{negregnucmet}{negregcellmet}
\GOe{posr}{posregnucmet}{nucmet}
\GOe{isa}{posregnucmet}{regnucmet}
\GOe{isa}{posregnucmet}{posregcellmet}
\GOe{isa}{posregnucmet}{posregnitro}
\GOe{isa}{rnamet}{nucacidmet}
\GOe{regs}{regrnamet}{rnamet}
\GOe{isa}{regrnamet}{regnucmet}
\GOe{isa}{rnabiosyn}{rnamet}
\GOe{isa}{rnabiosyn}{nucbiosyn}
\GOe{negr}{negregrnamet}{rnamet}
\GOe{isa}{negregrnamet}{regrnamet}
\GOe{isa}{negregrnamet}{negregnucmet}
\GOe{regs}{regrnabiosyn}{rnabiosyn}
\GOe{isa}{regrnabiosyn}{regrnamet}
\GOe{isa}{regrnabiosyn}{regmacrobiosyn}
\GOe{posr}{posregrnamet}{rnamet}
\GOe{isa}{posregrnamet}{regrnamet}
\GOe{isa}{posregrnamet}{posregnucmet}
\GOe{negr}{negregrnabiosyn}{rnabiosyn}
\GOe{isa}{negregrnabiosyn}{negregrnamet}
\GOe{isa}{negregrnabiosyn}{regrnabiosyn}
\GOe{isa}{negregrnabiosyn}{negregmacrobiosyn}
\GOe{posr}{posregrnabiosyn}{rnabiosyn}
\GOe{isa}{posregrnabiosyn}{regrnabiosyn}
\GOe{isa}{posregrnabiosyn}{posregrnamet}
\GOe{isa}{posregrnabiosyn}{posregmacrobiosyn}
\GOe{isa}{natrans}{rnabiosyn}
\GOe{partof}{natrans}{geneexp}
\GOe{regs}{regnatrans}{natrans}
\GOe{isa}{regnatrans}{regrnabiosyn}
\GOe{isa}{dnatrans}{natrans}
\GOe{negr}{negregnatrans}{natrans}
\GOe{isa}{negregnatrans}{regnatrans}
\GOe{isa}{negregnatrans}{negregrnabiosyn}
\GOe{posr}{posregnatrans}{natrans}
\GOe{isa}{posregnatrans}{regnatrans}
\GOe{isa}{posregnatrans}{posregrnabiosyn}
\GOe{regs}{regdnatrans}{dnatrans}
\GOe{isa}{regdnatrans}{regnatrans}
\GOe{isa}{regdnatrans}{reggeneexp}
\GOe{negr}{negregdnatrans}{dnatrans}
\GOe{isa}{negregdnatrans}{regdnatrans}
\GOe{isa}{negregdnatrans}{negregnatrans}
\draw[posr] (posregdnatrans.north east) .. controls (7320,1100) and (7320,1010) .. (dnatrans.-30);
\GOe{isa}{posregdnatrans}{regdnatrans}
\GOe{isa}{posregdnatrans}{posregnatrans}
\GOe{isa}{cellnitromet}{nitro}
\GOe{isa}{cellnitromet}{cellmet}
\GOe{isa}{orgcycmet}{orgsubmet}
\GOe{isa}{orgsubbiosyn}{orgsubmet}
\GOe{isa}{orgsubbiosyn}{biosyn}
\GOe{isa}{nucmet}{cellnitromet}
\GOe{isa}{nucmet}{orgcycmet}
\GOe{isa}{nucmet}{hetmet}
\GOe{isa}{nucmet}{cellarom}
\GOe{isa}{orgcycbiosyn}{orgcycmet}
\GOe{isa}{orgcycbiosyn}{orgsubbiosyn}
\GOe{isa}{macromet}{orgsubmet}
\GOe{isa}{nucacidmet}{nucmet}
\GOe{isa}{nucacidmet}{macromet}
\GOe{isa}{macrobiosyn}{macromet}
\GOe{isa}{macrobiosyn}{orgsubbiosyn}
\GOe{isa}{geneexp}{macromet}
\GOe{regs}{reggeneexp}{geneexp}
\GOe{isa}{reggeneexp}{regmacromet}
\GOe{isa}{trpol2}{dnatrans}
\GOe{regs}{regtrpol2}{trpol2}
\GOe{isa}{regtrpol2}{regdnatrans}
\draw[negr] (negpol2.north) .. controls (7312,1150) and (7370,1100) .. (trpol2.south west);
\GOe{isa}{negpol2}{regtrpol2}
\GOe{isa}{negpol2}{negregdnatrans}
\draw[posr] (pospol2.east) .. controls (7590,1259) and (7580,1130) .. (trpol2.south east);
\GOe{isa}{pospol2}{regtrpol2}
\GOe{isa}{pospol2}{posregdnatrans}
\end{pgfonlayer}
\end{tikzpicture}
\end{document}
